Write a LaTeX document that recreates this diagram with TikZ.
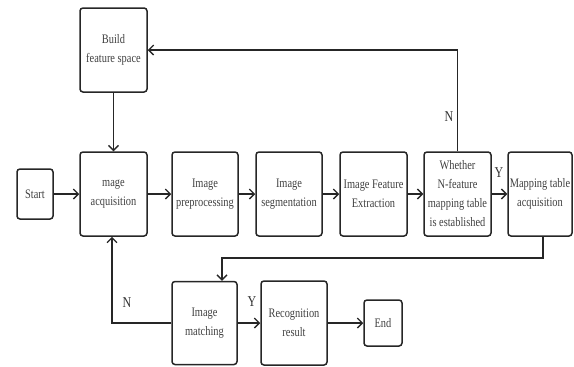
\documentclass[tikz,border=0pt]{standalone}
\usepackage{fontspec}
\setmainfont[FakeStretch=0.8]{Liberation Serif}
\usetikzlibrary{arrows.meta}
\begin{document}
\begin{tikzpicture}[x=1pt,y=-1pt,
  box/.style={draw=black!85, line width=1.5pt, rounded corners=3pt, align=center, inner sep=0pt, font=\fontsize{13}{19}\selectfont, text=black!75},
  conn/.style={draw=black!85, line width=1.5pt, -{Straight Barb[length=5pt,width=10pt,line width=1.4pt]}},
  lbl/.style={font=\fontsize{15}{16}\selectfont, text=black!80, inner sep=0pt}]
\useasboundingbox (0,0) rectangle (574,367);
\node[box, minimum width=67pt, minimum height=84pt] (build) at (113.5,50) {Build\\feature space};
\node[box, minimum width=36pt, minimum height=50pt] (start) at (35,194) {Start};
\node[box, minimum width=67pt, minimum height=84pt] (acq) at (113.5,194) {mage\\acquisition};
\node[box, minimum width=66pt, minimum height=84pt] (pre) at (205,194) {Image\\preprocessing};
\node[box, minimum width=66pt, minimum height=84pt] (seg) at (289,194) {Image\\segmentation};
\node[box, minimum width=67pt, minimum height=84pt] (fe) at (373.5,194) {Image Feature\\Extraction};
\node[box, minimum width=67pt, minimum height=84pt] (wh) at (457.5,194) {Whether\\N-feature\\mapping table\\is established};
\node[box, minimum width=64pt, minimum height=84pt] (map) at (540,194) {Mapping table\\acquisition};
\node[box, minimum width=65pt, minimum height=83pt] (match) at (204.5,323) {Image\\matching};
\node[box, minimum width=66pt, minimum height=84pt] (rec) at (294,323) {Recognition\\result};
\node[box, minimum width=38pt, minimum height=46pt] (end) at (383,323) {End};
\coordinate (mapturn) at (543,258);
\coordinate (matchturn) at (222,258);
\coordinate (nturn) at (112,323);
\draw[conn] (start) -- (acq);
\draw[conn] (acq) -- (pre);
\draw[conn] (pre) -- (seg);
\draw[conn] (seg) -- (fe);
\draw[conn] (fe) -- (wh);
\draw[conn] (wh) -- (map);
\draw[conn] (build) -- (acq);
\draw[conn] (wh.north) |- (build.east);
\draw[conn] (map.south -| mapturn) -- (mapturn) -- (matchturn) -- (match.north -| matchturn);
\draw[conn] (match.west) -- (nturn) -- (acq.south -| nturn);
\draw[conn] (match) -- (rec);
\draw[conn] (rec) -- (end);
\node[lbl] (ln1) at (449,117) {N};
\node[lbl] (ly1) at (499,173) {Y};
\node[lbl] (ln2) at (127,303) {N};
\node[lbl] (ly2) at (252,302) {Y};
\end{tikzpicture}
\end{document}
